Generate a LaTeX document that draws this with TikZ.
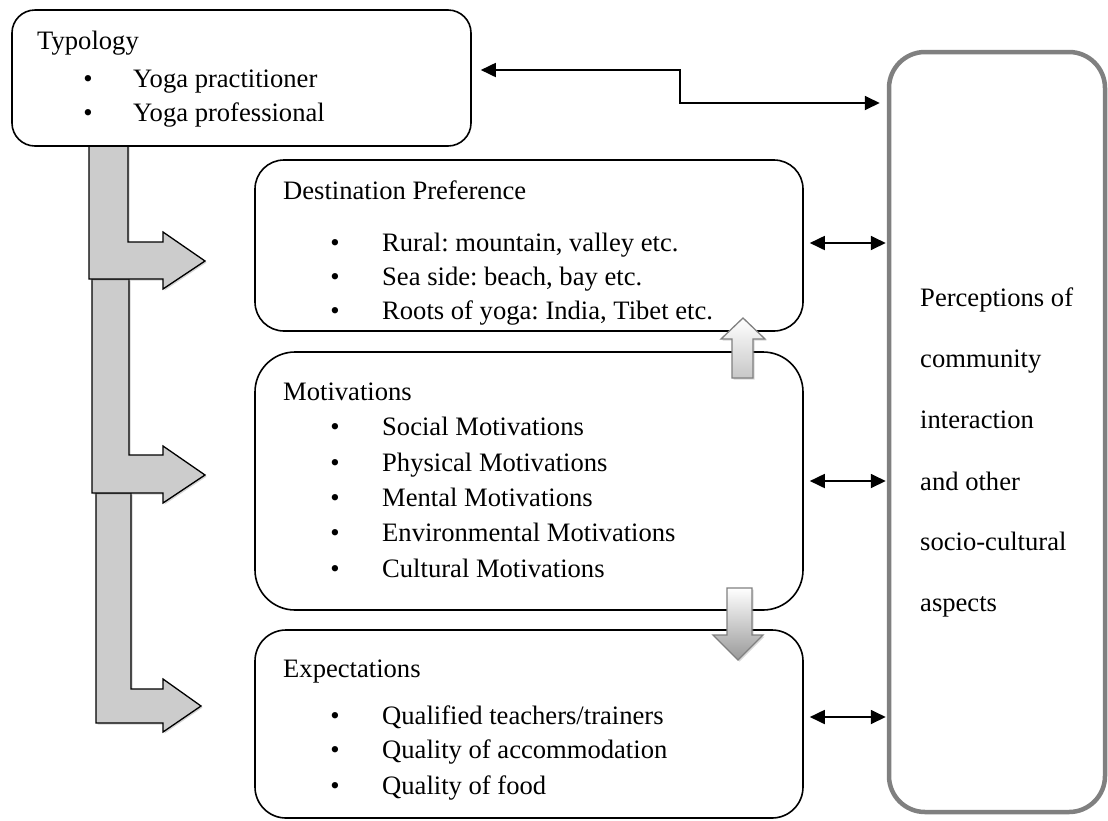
\documentclass[tikz,border=0pt]{standalone}
\usepackage{fontspec}
\setmainfont{Liberation Serif}
\frenchspacing
\usetikzlibrary{arrows.meta,shadows,calc}
\tikzset{
  box/.style={draw=black, line width=1.6pt, fill=white, inner sep=0pt, rectangle},
  pbox/.style={draw=black!50, line width=4.5pt, fill=white, inner sep=0pt, rectangle, rounded corners=36pt},
  txt/.style={anchor=base west, inner sep=0pt, font=\fontsize{26.6}{32}\selectfont},
  bul/.style={anchor=base, inner sep=0pt, font=\fontsize{26.6}{32}\selectfont},
  bent/.style={fill=black!20, draw=black, line width=1.3pt, line join=miter,
    drop shadow={opacity=0.35, shadow xshift=1.5pt, shadow yshift=-1.5pt}},
  small/.style={draw=black!50, line width=1.3pt, line join=miter,
    drop shadow={opacity=0.3, shadow xshift=1.5pt, shadow yshift=-1.5pt}},
  dbl/.style={{Triangle[length=15pt,width=14pt]}-{Triangle[length=15pt,width=14pt]}, line width=1.8pt, black},
}
\begin{document}
\begin{tikzpicture}[x=1pt,y=-1pt]
\useasboundingbox (0,0) rectangle (1108,820);

% bent arrows (drawn below boxes)
\path[bent] (96,493) -- (131,493) -- (131,689) -- (163,689) -- (163,679) -- (201,706)
  -- (163,732) -- (163,723) -- (96,723) -- cycle;
\path[bent] (92,279) -- (129,279) -- (129,455) -- (163,455) -- (163,446) -- (205,475)
  -- (163,503) -- (163,493) -- (92,493) -- cycle;
\path[bent] (89,140) -- (128,140) -- (128,242) -- (163,242) -- (163,232) -- (205,261)
  -- (163,289) -- (163,279) -- (89,279) -- cycle;

% boxes
\node[box, rounded corners=23pt, minimum width=459pt, minimum height=136pt] (typ) at (241.5,78) {};
\node[pbox, minimum width=216pt, minimum height=760pt] (percep) at (997,432) {};
\node[box, rounded corners=29pt, minimum width=548pt, minimum height=171pt] (dest) at (529,245.5) {};
\node[box, rounded corners=40pt, minimum width=548pt, minimum height=258pt] (mot) at (529,481) {};
\node[box, rounded corners=31pt, minimum width=548pt, minimum height=188pt] (exp) at (529,724) {};

% small up / down arrows
\path[small, top color=white, bottom color=black!22] (743,318) -- (765,339) -- (753,339) -- (753,378)
  -- (732,378) -- (732,339) -- (721,339) -- cycle;
\path[small, top color=white, bottom color=black!40] (727,588) -- (752,588) -- (752,635) -- (763,635)
  -- (738,660) -- (713,635) -- (727,635) -- cycle;

% Typology text
\node[txt] (t0) at (37,49) {Typology};
\node[bul] (tb1) at (88,87) {\textbullet};
\node[txt] (t1) at (133,87) {Yoga practitioner};
\node[bul] (tb2) at (88,121) {\textbullet};
\node[txt] (t2) at (133,121) {Yoga professional};

% Destination text
\node[txt] (d0) at (283,199) {Destination Preference};
\node[bul] (db1) at (335,251) {\textbullet};
\node[txt] (d1) at (382,251) {Rural: mountain, valley etc.};
\node[bul] (db2) at (335,285) {\textbullet};
\node[txt] (d2) at (382,285) {Sea side: beach, bay etc.};
\node[bul] (db3) at (335,319) {\textbullet};
\node[txt] (d3) at (382,319) {Roots of yoga: India, Tibet etc.};

% Motivations text
\node[txt] (m0) at (283,400) {Motivations};
\node[bul] (mb1) at (335,435) {\textbullet};
\node[txt] (m1) at (382,435) {Social Motivations};
\node[bul] (mb2) at (335,471) {\textbullet};
\node[txt] (m2) at (382,471) {Physical Motivations};
\node[bul] (mb3) at (335,506) {\textbullet};
\node[txt] (m3) at (382,506) {Mental Motivations};
\node[bul] (mb4) at (335,541) {\textbullet};
\node[txt] (m4) at (382,541) {Environmental Motivations};
\node[bul] (mb5) at (335,577) {\textbullet};
\node[txt] (m5) at (382,577) {Cultural Motivations};

% Expectations text
\node[txt] (e0) at (283,677) {Expectations};
\node[bul] (eb1) at (335,724) {\textbullet};
\node[txt] (e1) at (382,724) {Qualified teachers/trainers};
\node[bul] (eb2) at (335,758) {\textbullet};
\node[txt] (e2) at (382,758) {Quality of accommodation};
\node[bul] (eb3) at (335,794) {\textbullet};
\node[txt] (e3) at (382,794) {Quality of food};

% Perceptions text
\node[txt] (p1) at (920,306) {Perceptions of};
\node[txt] (p2) at (920,367) {community};
\node[txt] (p3) at (920,428) {interaction};
\node[txt] (p4) at (920,490) {and other};
\node[txt] (p5) at (920,550) {socio-cultural};
\node[txt] (p6) at (920,611) {aspects};

% connectors
\coordinate (bend) at (680,86);
\draw[dbl, shorten <=9pt, shorten >=7pt] (typ.east |- 0,70) -| (bend) |- (percep.west |- 0,103);
\draw[dbl, shorten <=6pt, shorten >=1pt] (dest.east |- 0,243) -- (percep.west |- 0,243);
\draw[dbl, shorten <=6pt, shorten >=1pt] (mot.east |- 0,481) -- (percep.west |- 0,481);
\draw[dbl, shorten <=6pt, shorten >=1pt] (exp.east |- 0,717) -- (percep.west |- 0,717);
\end{tikzpicture}
\end{document}
